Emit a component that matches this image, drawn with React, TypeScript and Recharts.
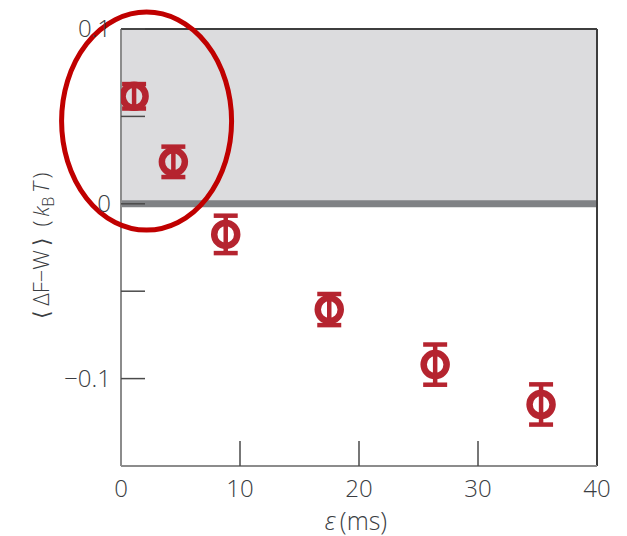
import React from "react";
import {
  ScatterChart,
  Scatter,
  XAxis,
  YAxis,
  ErrorBar,
  Label,
  ReferenceArea,
  ReferenceLine,
  ReferenceDot,
} from "recharts";

// protocol duration (ms), mean <dF - W> (kBT) and its error
const durations = [1.1, 4.4, 8.8, 17.5, 26.4, 35.3];
const meanDiff = [0.0615, 0.024, -0.0175, -0.0605, -0.092, -0.1148];
const errors = [0.007, 0.0087, 0.0107, 0.0089, 0.0115, 0.0115];

const xTicks = [0, 10, 20, 30, 40];
const yTicks = [0.1, 0.05, 0, -0.05, -0.1];
const yLabelled = [0.1, 0, -0.1];

// highlighted region around the short-protocol points
const highlightCenter = { x: 2.15, y: 0.0473 };

const points = durations.map((x, i) => ({ x, y: meanDiff[i], err: errors[i] }));

const RED = "#b5242f";
const TEXT = "#3a3d42";
const FONT = "'Open Sans', 'DejaVu Sans', sans-serif";
const Y_MARGIN = 10;
const X_MARGIN = 0;

const fmt = (v: number) => (v === 0 ? "0" : v < 0 ? `\u2212${Math.abs(v)}` : `${v}`);

const YTick = (props: any) => {
  const { x, y, payload } = props;
  const v = payload.value as number;
  const axisX = x + Y_MARGIN;
  return (
    <g>
      <line x1={axisX} x2={axisX + 24} y1={y} y2={y} stroke="#4a4a4a" strokeWidth={1.5} />
      {yLabelled.includes(v) && (
        <text x={x} y={y} dy="0.35em" textAnchor="end" fill={TEXT} fontSize={24} fontFamily={FONT} fontWeight={300}>
          {fmt(v)}
        </text>
      )}
    </g>
  );
};

const XTick = (props: any) => {
  const { x, y, payload } = props;
  const v = payload.value as number;
  const axisY = y - X_MARGIN;
  const inner = v !== xTicks[0] && v !== xTicks[xTicks.length - 1];
  return (
    <g>
      {inner && <line x1={x} x2={x} y1={axisY} y2={axisY - 25} stroke="#4a4a4a" strokeWidth={1.5} />}
      <text x={x} y={axisY + 31} textAnchor="middle" fill={TEXT} fontSize={24} fontFamily={FONT} fontWeight={300}>
        {v}
      </text>
    </g>
  );
};

const YTitle = (props: any) => {
  const { viewBox } = props;
  const cx = viewBox.x + 41;
  const cy = viewBox.y + viewBox.height / 2 - 2;
  return (
    <text
      x={cx}
      y={cy}
      dy="0.35em"
      transform={`rotate(-90 ${cx} ${cy})`}
      textAnchor="middle"
      fill={TEXT}
      fontSize={22}
      fontFamily={FONT}
      fontWeight={300}
    >
      {"\u27E8\u2009\u0394F\u2212W\u2009\u27E9\u2002(\u2009"}
      <tspan fontStyle="italic">k</tspan>
      <tspan dy={5} fontSize={16}>B</tspan>
      <tspan dy={-5} fontStyle="italic">{"\u2009T\u2009"}</tspan>
      {")"}
    </text>
  );
};

const XTitle = (props: any) => {
  const { viewBox } = props;
  const cx = viewBox.x + viewBox.width / 2 - 3;
  return (
    <text x={cx} y={viewBox.y + 64} textAnchor="middle" fill={TEXT} fontSize={25} fontFamily={FONT} fontWeight={300}>
      <tspan fontStyle="italic">{"\u03B5"}</tspan>
      {"\u2009(ms)"}
    </text>
  );
};

const Ring = (props: any) => (
  <circle cx={props.cx} cy={props.cy} r={11.5} fill="none" stroke={RED} strokeWidth={6.5} />
);

const Oval = (props: any) => (
  <ellipse cx={props.cx} cy={props.cy} rx={85} ry={109} fill="none" stroke="#c00000" strokeWidth={5} />
);

export default function App() {
  return (
    <div style={{ position: "absolute", left: 0, top: 0, background: "#fff" }}>
      <ScatterChart width={627} height={536} margin={{ top: 29, right: 30, left: 0, bottom: 0 }}>
        <ReferenceArea x1={0} x2={40} y1={0} y2={0.1} fill="#dcdcde" fillOpacity={1} stroke="none" />
        <ReferenceLine y={0} stroke="#808285" strokeWidth={7} />
        <ReferenceLine y={0.1} stroke="#3d3d3d" strokeWidth={2} />
        <ReferenceLine x={40} stroke="#3d3d3d" strokeWidth={2} />
        <XAxis
          type="number"
          dataKey="x"
          domain={[0, 40]}
          ticks={xTicks}
          height={70}
          tickSize={0}
          tickMargin={X_MARGIN}
          tickLine={false}
          tick={<XTick />}
          axisLine={{ stroke: "#8c8c8c", strokeWidth: 2 }}
          allowDataOverflow
        >
          <Label content={<XTitle />} />
        </XAxis>
        <YAxis
          type="number"
          dataKey="y"
          domain={[-0.15, 0.1]}
          ticks={yTicks}
          width={121}
          tickSize={0}
          tickMargin={Y_MARGIN}
          tickLine={false}
          tick={<YTick />}
          axisLine={{ stroke: "#8c8c8c", strokeWidth: 2 }}
          allowDataOverflow
        >
          <Label content={<YTitle />} />
        </YAxis>
        <Scatter data={points} dataKey="y" shape={<Ring />} isAnimationActive={false}>
          <ErrorBar dataKey="err" direction="y" width={12} strokeWidth={4.5} stroke={RED} isAnimationActive={false} />
        </Scatter>
        <ReferenceDot x={highlightCenter.x} y={highlightCenter.y} ifOverflow="visible" shape={<Oval />} />
      </ScatterChart>
    </div>
  );
}
